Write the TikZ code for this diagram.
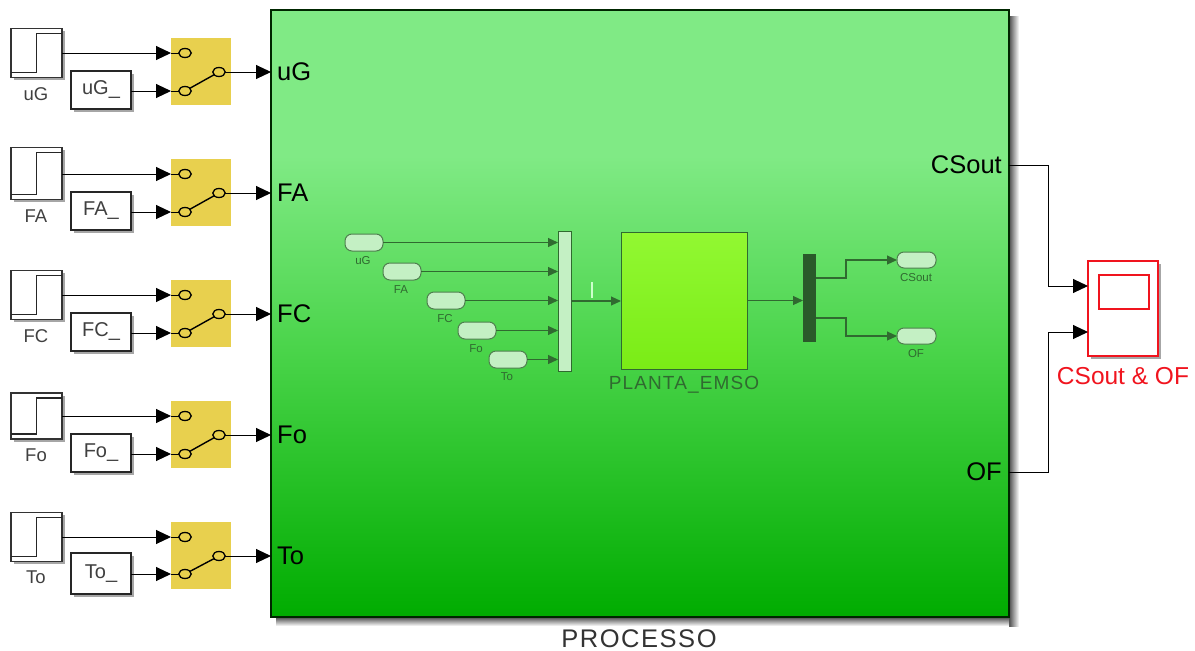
\documentclass[tikz,border=0pt]{standalone}
\usepackage{fontspec}
\setmainfont{Liberation Sans}
\newfontfamily\spacedfont[LetterSpace=6]{Liberation Sans}
\usetikzlibrary{arrows.meta,shapes.geometric,shadows,calc}
\definecolor{gtop}{RGB}{128,234,133}
\definecolor{gmid}{RGB}{74,212,74}
\definecolor{gbot}{RGB}{0,172,0}
\definecolor{yel}{RGB}{232,208,78}
\definecolor{inkg}{RGB}{48,106,48}
\definecolor{pale}{RGB}{196,240,196}
\definecolor{dkmux}{RGB}{42,90,42}
\definecolor{redb}{RGB}{240,20,30}
\definecolor{lime1}{RGB}{146,248,50}
\definecolor{lime2}{RGB}{122,236,22}
\pgfdeclareverticalshading{bigshade}{100bp}{color(0bp)=(gbot); color(25bp)=(gbot); color(47bp)=(gmid); color(63bp)=(gtop); color(75bp)=(gtop); color(100bp)=(gtop)}
\newcommand{\fsz}[1]{\fontsize{#1}{#1}\selectfont}
\tikzset{
  x=1pt,y=-1pt,
  softshadow/.style={drop shadow={shadow xshift=2.5pt,shadow yshift=-2.5pt,fill=black,opacity=.35}},
  stepbox/.style={draw=black!80,line width=1.7pt,fill=white,minimum width=51pt,inner sep=0pt,outer sep=0pt,softshadow},
  constbox/.style={draw=black!85,line width=1.4pt,fill=white,minimum width=60pt,inner sep=0pt,outer sep=0pt,softshadow,font=\fsz{20},text=black!75},
  swbox/.style={fill=yel,minimum width=60pt,minimum height=67pt,inner sep=0pt,outer sep=0pt},
  swdot/.style={draw=black,line width=1.3pt,fill=yel,ellipse,minimum width=12.5pt,minimum height=9pt,inner sep=0pt,outer sep=0pt},
  arr/.style={draw=black,line width=1pt,-{Triangle[length=15pt,width=14pt]}},
  wire/.style={draw=black,line width=1pt},
  iarr/.style={draw=inkg,line width=1.1pt,-{Triangle[length=10pt,width=9pt]}},
  pill/.style={draw=inkg!85,line width=1pt,fill=pale,rounded corners=7pt,minimum width=38pt,minimum height=17pt,inner sep=0pt,outer sep=0pt},
  ilabel/.style={font=\fsz{11.5},text=inkg,inner sep=0pt},
  steplabel/.style={font=\fsz{18.5},text=black!75,inner sep=0pt},
  portlabel/.style={font=\fsz{25.5},text=black,inner sep=0pt},
}
\begin{document}
\begin{tikzpicture}
\useasboundingbox (0,0) rectangle (1195,651);
% main block with its soft shadow
\shade[left color=black!70,right color=white] (1009,16) rectangle (1019,626);
\shade[top color=black!70,bottom color=white] (276,617) rectangle (1009,626);
\node[draw=black!85!green,line width=1.6pt,shading=bigshade,minimum width=738pt,minimum height=607pt,inner sep=0pt,outer sep=0pt] (block) at (640,313.5) {};
\node[font={\fsz{25.5}\spacedfont},text=black!80,inner sep=0pt] (proc) at (639,639) {PROCESSO};
% left-hand rows
\foreach \i/\lab/\sy/\sh/\swy/\ya/\yb/\yo/\ly/\cy/\ch in {
 1/uG/53/49/71.5/53/91/72/94/90/38,
 2/FA/173.5/52/192.5/174/212/193/216/211/38,
 3/FC/295/49/313.5/295/333/314/336/332/38,
 4/Fo/416/46/434.5/416/454/435/455/453/38,
 5/To/537/49/555.5/537/574/556/577/573.5/41}{
  \node[stepbox,minimum height=\sh pt] (st\i) at (36.5,\sy) {};
  \draw[black!85,line width=1.6pt] ($(st\i.north east)+(0,5)$) -- ($(st\i.north)+(0,5)$) -- ($(st\i.south)+(0,-5)$) -- ($(st\i.south west)+(0,-5)$);
  \node[steplabel] (sl\i) at (36,\ly) {\lab};
  \node[constbox,minimum height=\ch pt] (co\i) at (101,\cy) {\lab\_};
  \node[swbox] (sw\i) at (201,\swy) {};
  \node[swdot] (ia\i) at (185,\ya) {};
  \node[swdot] (ib\i) at (185,\yb) {};
  \node[swdot] (ou\i) at (219,\yo) {};
  \draw[line width=1.4pt] (ib\i) -- (ou\i);
  \draw[arr] (st\i.east |- ia\i) -- (ia\i -| sw\i.west);
  \draw[wire] (ia\i -| sw\i.west) -- (ia\i.west);
  \draw[arr] (co\i.east |- ib\i) -- (ib\i -| sw\i.west);
  \draw[wire] (ib\i -| sw\i.west) -- (ib\i.west);
  \draw[arr] (ou\i.east) -- (ou\i -| block.west);
  \node[portlabel,anchor=west] (pt\i) at (277,\yo) {\lab};
}
% inside the block
\node[draw=inkg,line width=1pt,fill=pale,minimum width=13pt,minimum height=140pt,inner sep=0pt,outer sep=0pt] (mux) at (564.5,301) {};
\foreach \n/\lab/\px/\py/\ly in {a/uG/364/242.5/261, b/FA/402/271.5/290, c/FC/446/300.5/319, d/Fo/477/330.5/349, e/To/508/359.5/377}{
  \node[pill] (p\n) at (\px,\py) {};
  \node[ilabel] (q\n) at (\px-1,\ly) {\lab};
  \draw[iarr] (p\n.east) -- (p\n -| mux.west);
}
\node[draw=inkg,line width=.9pt,top color=lime1,bottom color=lime2,minimum width=126pt,minimum height=137pt,inner sep=0pt,outer sep=0pt] (plant) at (684,300.5) {};
\node[font={\fsz{19}\spacedfont},text=inkg,inner sep=0pt] (plabel) at (684,385) {PLANTA\_EMSO};
\draw[iarr] (mux.east) -- (mux.east -| plant.west);
\draw[white!80!green,line width=1.1pt] (592,282) -- (592,298);
\node[fill=dkmux,minimum width=13pt,minimum height=88pt,inner sep=0pt,outer sep=0pt] (demux) at (809.5,298) {};
\draw[iarr] (plant.east) -- (plant.east -| demux.west);
\node[pill,minimum width=39pt,minimum height=16pt] (pcs) at (916.5,260) {};
\node[pill,minimum width=39pt,minimum height=16pt] (pof) at (916.5,336) {};
\node[ilabel] (lcs) at (916,278) {CSout};
\node[ilabel] (lof) at (916,354) {OF};
\coordinate (dmu) at (816,278);
\coordinate (dml) at (816,318);
\draw[iarr] (dmu) -- ++(30,0) |- (pcs.west);
\draw[iarr] (dml) -- ++(30,0) |- (pof.west);
% outputs and scope
\node[portlabel,anchor=east] (pcsout) at (1002,165) {CSout};
\node[portlabel,anchor=east] (pofout) at (1002,472) {OF};
\node[draw=redb,line width=1.3pt,fill=white,minimum width=70pt,minimum height=95pt,inner sep=0pt,outer sep=0pt,softshadow] (scope) at (1123,308.5) {};
\node[draw=redb,line width=1.5pt,fill=white,minimum width=50pt,minimum height=34pt,inner sep=0pt,outer sep=0pt] (screen) at (1124,292) {};
\node[font=\fsz{24.5},text=redb,inner sep=0pt] (slabel) at (1123,376) {CSout \& OF};
\coordinate (oa) at (block.east |- pcsout);
\coordinate (ob) at (block.east |- pofout);
\coordinate (ia) at (1088,286);
\coordinate (ib) at (1088,332);
\draw[arr] (oa) -- ++(39,0) |- (ia);
\draw[arr] (ob) -- ++(39,0) |- (ib);
\end{tikzpicture}
\end{document}
